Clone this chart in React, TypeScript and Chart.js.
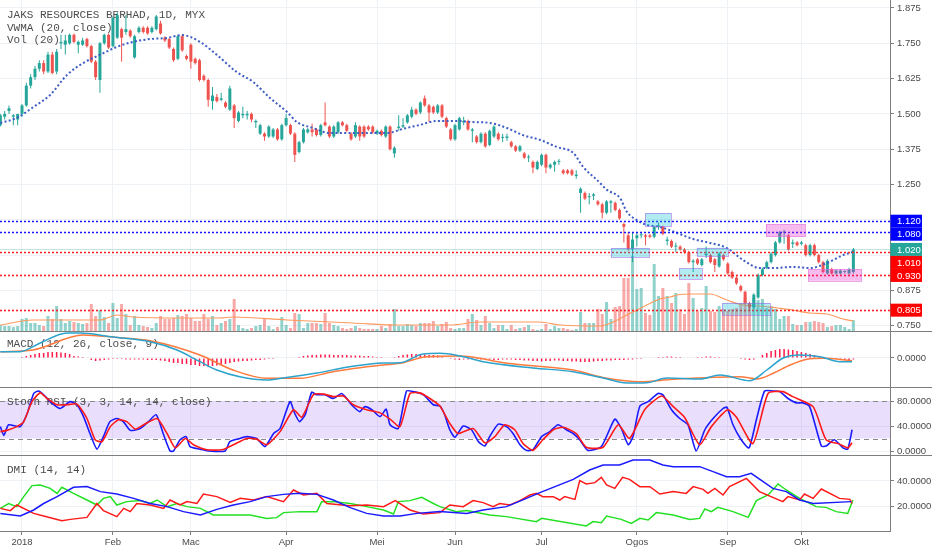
import React, { useEffect, useRef } from 'react';
import { Chart, registerables } from 'chart.js';

Chart.register(...registerables);
Chart.defaults.font.family = "'Liberation Sans', Arial, sans-serif";

// ---------- layout constants ----------
const AXIS_W = 42;
const X_MIN = -0.08;
const X_MAX = 205.46;
const GRID = '#eef1f6';
const AXIS = '#7f7f7f';
const TXT = '#4a4a4a';
const TICK_FONT = { family: "'Liberation Sans', Arial, sans-serif", size: 9.5 };
const MONO = "11px 'Liberation Mono', 'DejaVu Sans Mono', monospace";

// ---------- data ----------
const MONTH_TICKS = [5, 26, 44, 66, 87, 105, 125, 147, 168, 185];
const MONTH_LABELS = ['2018', 'Feb', 'Mac', 'Apr', 'Mei', 'Jun', 'Jul', 'Ogos', 'Sep', 'Okt'];

const OPEN = [
  1.46, 1.49, 1.51, 1.49, 1.48, 1.50, 1.53, 1.60, 1.63, 1.66,
  1.68, 1.65, 1.71, 1.65, 1.75, 1.745, 1.75, 1.78, 1.745, 1.745,
  1.765, 1.74, 1.685, 1.62, 1.75, 1.78, 1.74, 1.77, 1.80, 1.79,
  1.795, 1.70, 1.79, 1.805, 1.805, 1.79, 1.80, 1.82, 1.77, 1.765,
  1.73, 1.695, 1.775, 1.705, 1.745, 1.695, 1.69, 1.635, 1.62, 1.545,
  1.56, 1.55, 1.54, 1.515, 1.53, 1.475, 1.495, 1.495, 1.50, 1.47,
  1.43, 1.43, 1.42, 1.42, 1.445, 1.41, 1.46, 1.46, 1.43, 1.365,
  1.40, 1.435, 1.445, 1.445, 1.425, 1.47, 1.455, 1.42, 1.435, 1.47,
  1.46, 1.43, 1.42, 1.455, 1.455, 1.455, 1.455, 1.43, 1.44, 1.42,
  1.455, 1.36, 1.45, 1.455, 1.47, 1.49, 1.515, 1.505, 1.555, 1.53,
  1.525, 1.505, 1.53, 1.485, 1.445, 1.41, 1.445, 1.47, 1.475, 1.44,
  1.42, 1.40, 1.43, 1.39, 1.42, 1.43, 1.415, 1.415, 1.40, 1.385,
  1.37, 1.36, 1.345, 1.33, 1.305, 1.32, 1.355, 1.31, 1.32, 1.33,
  1.30, 1.30, 1.30, 1.28, 1.22, 1.22, 1.205, 1.21, 1.19, 1.18,
  1.15, 1.185, 1.185, 1.16, 1.11, 1.07, 1.02, 1.06, 1.07, 1.07,
  1.07, 1.065, 1.10, 1.10, 1.05, 1.05, 1.03, 1.03, 1.02, 1.01,
  0.975, 0.985, 0.965, 1.00, 1.00, 0.985, 0.96, 1.00, 0.97, 0.94,
  0.92, 0.89, 0.87, 0.83, 0.815, 0.85, 0.93, 0.955, 0.975, 1.00,
  1.045, 1.08, 1.07, 1.04, 1.045, 1.04, 1.035, 1.00, 1.035, 1.00,
  0.975, 0.935, 0.95, 0.935, 0.935, 0.94, 0.935, 0.94,
];
const HIGH = [
  1.50, 1.51, 1.53, 1.50, 1.50, 1.535, 1.61, 1.64, 1.67, 1.69,
  1.69, 1.72, 1.72, 1.73, 1.78, 1.78, 1.785, 1.785, 1.76, 1.77,
  1.77, 1.745, 1.69, 1.755, 1.785, 1.785, 1.845, 1.86, 1.805, 1.85,
  1.80, 1.78, 1.81, 1.81, 1.81, 1.81, 1.85, 1.83, 1.775, 1.77,
  1.735, 1.78, 1.78, 1.71, 1.75, 1.70, 1.695, 1.64, 1.625, 1.595,
  1.57, 1.575, 1.545, 1.60, 1.535, 1.51, 1.525, 1.51, 1.505, 1.48,
  1.465, 1.435, 1.46, 1.45, 1.45, 1.465, 1.50, 1.465, 1.435, 1.405,
  1.45, 1.45, 1.465, 1.45, 1.465, 1.54, 1.46, 1.46, 1.475, 1.475,
  1.465, 1.435, 1.47, 1.46, 1.46, 1.46, 1.46, 1.445, 1.445, 1.46,
  1.46, 1.385, 1.495, 1.485, 1.50, 1.525, 1.52, 1.545, 1.565, 1.535,
  1.53, 1.535, 1.535, 1.49, 1.45, 1.465, 1.49, 1.49, 1.48, 1.45,
  1.425, 1.435, 1.435, 1.445, 1.46, 1.435, 1.43, 1.43, 1.405, 1.39,
  1.39, 1.365, 1.355, 1.335, 1.335, 1.36, 1.36, 1.325, 1.335, 1.34,
  1.305, 1.305, 1.305, 1.30, 1.24, 1.225, 1.22, 1.22, 1.195, 1.185,
  1.195, 1.195, 1.19, 1.165, 1.115, 1.08, 1.08, 1.08, 1.08, 1.075,
  1.075, 1.105, 1.115, 1.105, 1.065, 1.055, 1.045, 1.035, 1.025, 1.015,
  0.985, 0.99, 0.99, 1.03, 1.005, 0.99, 1.01, 1.005, 0.975, 0.945,
  0.925, 0.895, 0.875, 0.835, 0.865, 0.935, 0.955, 0.98, 1.01, 1.05,
  1.085, 1.09, 1.075, 1.055, 1.05, 1.05, 1.04, 1.04, 1.04, 1.005,
  0.98, 0.985, 0.955, 0.95, 0.95, 0.945, 0.955, 1.025,
];
const LOW = [
  1.455, 1.48, 1.50, 1.46, 1.46, 1.49, 1.525, 1.59, 1.62, 1.65,
  1.64, 1.645, 1.64, 1.64, 1.73, 1.71, 1.745, 1.75, 1.715, 1.74,
  1.735, 1.68, 1.62, 1.575, 1.745, 1.73, 1.735, 1.765, 1.685, 1.78,
  1.77, 1.695, 1.785, 1.785, 1.78, 1.785, 1.795, 1.78, 1.755, 1.73,
  1.685, 1.69, 1.72, 1.69, 1.66, 1.675, 1.615, 1.615, 1.525, 1.515,
  1.54, 1.545, 1.52, 1.51, 1.45, 1.47, 1.485, 1.48, 1.47, 1.45,
  1.425, 1.405, 1.415, 1.415, 1.405, 1.405, 1.455, 1.425, 1.33, 1.36,
  1.395, 1.43, 1.42, 1.42, 1.42, 1.455, 1.415, 1.415, 1.43, 1.455,
  1.435, 1.405, 1.415, 1.405, 1.415, 1.44, 1.43, 1.425, 1.42, 1.415,
  1.37, 1.345, 1.44, 1.45, 1.465, 1.485, 1.495, 1.50, 1.525, 1.47,
  1.50, 1.50, 1.485, 1.45, 1.405, 1.405, 1.44, 1.46, 1.44, 1.40,
  1.395, 1.395, 1.38, 1.385, 1.415, 1.405, 1.40, 1.405, 1.38, 1.365,
  1.365, 1.34, 1.33, 1.29, 1.30, 1.315, 1.29, 1.305, 1.295, 1.32,
  1.285, 1.285, 1.28, 1.27, 1.15, 1.195, 1.18, 1.195, 1.175, 1.13,
  1.145, 1.15, 1.155, 1.125, 1.045, 1.015, 0.975, 1.03, 1.06, 1.035,
  1.06, 1.06, 1.09, 1.07, 1.035, 1.025, 1.01, 1.015, 1.005, 0.97,
  0.94, 0.965, 0.96, 0.99, 0.97, 0.94, 0.955, 0.98, 0.93, 0.915,
  0.895, 0.87, 0.825, 0.805, 0.81, 0.845, 0.925, 0.95, 0.97, 0.995,
  1.04, 1.04, 1.015, 1.025, 1.03, 1.035, 0.995, 0.995, 0.995, 0.97,
  0.935, 0.93, 0.93, 0.93, 0.93, 0.935, 0.93, 0.935,
];
const CLOSE = [
  1.495, 1.50, 1.52, 1.495, 1.50, 1.53, 1.60, 1.63, 1.66, 1.68,
  1.65, 1.71, 1.645, 1.72, 1.755, 1.76, 1.78, 1.755, 1.755, 1.76,
  1.74, 1.685, 1.63, 1.75, 1.78, 1.735, 1.84, 1.85, 1.77, 1.80,
  1.775, 1.775, 1.805, 1.79, 1.785, 1.805, 1.845, 1.785, 1.76, 1.735,
  1.69, 1.775, 1.725, 1.695, 1.685, 1.68, 1.62, 1.62, 1.55, 1.565,
  1.545, 1.555, 1.525, 1.59, 1.485, 1.505, 1.50, 1.50, 1.48, 1.475,
  1.46, 1.42, 1.455, 1.445, 1.41, 1.46, 1.485, 1.43, 1.355, 1.40,
  1.445, 1.445, 1.435, 1.425, 1.46, 1.46, 1.42, 1.455, 1.47, 1.46,
  1.44, 1.41, 1.46, 1.42, 1.42, 1.445, 1.435, 1.44, 1.425, 1.455,
  1.375, 1.38, 1.455, 1.46, 1.495, 1.515, 1.50, 1.54, 1.53, 1.505,
  1.505, 1.53, 1.49, 1.455, 1.41, 1.46, 1.485, 1.475, 1.445, 1.445,
  1.40, 1.43, 1.385, 1.44, 1.455, 1.41, 1.415, 1.42, 1.385, 1.37,
  1.385, 1.345, 1.345, 1.31, 1.33, 1.355, 1.31, 1.32, 1.33, 1.33,
  1.29, 1.29, 1.285, 1.285, 1.235, 1.20, 1.205, 1.215, 1.18, 1.15,
  1.19, 1.19, 1.16, 1.13, 1.10, 1.02, 1.055, 1.07, 1.07, 1.065,
  1.065, 1.10, 1.105, 1.075, 1.055, 1.03, 1.03, 1.02, 1.01, 0.975,
  0.98, 0.97, 0.985, 1.005, 0.975, 0.965, 1.005, 0.985, 0.935, 0.92,
  0.90, 0.875, 0.83, 0.815, 0.86, 0.93, 0.95, 0.975, 1.005, 1.045,
  1.08, 1.08, 1.02, 1.045, 1.035, 1.045, 1.00, 1.035, 1.00, 0.975,
  0.94, 0.98, 0.935, 0.945, 0.945, 0.94, 0.95, 1.02,
];
// volume, in units of 100k shares
const VOLUME = [
  6, 5, 5, 4, 5, 12, 13, 8, 8, 6,
  5, 15, 12, 25, 12, 8, 10, 9, 8, 7,
  8, 27, 15, 21, 14, 8, 28, 13, 27, 17,
  6, 15, 6, 5, 4, 3, 8, 15, 12, 12,
  13, 16, 15, 17, 13, 10, 10, 17, 12, 15,
  6, 8, 10, 12, 32, 6, 3, 2, 3, 5,
  6, 12, 5, 2, 4, 14, 6, 3, 18, 17,
  3, 8, 8, 8, 7, 18, 8, 6, 5, 3,
  2, 3, 5, 3, 2, 2, 2, 2, 5, 3,
  7, 22, 5, 5, 7, 6, 5, 8, 8, 8,
  10, 5, 7, 9, 3, 2, 3, 3, 12, 17,
  11, 6, 15, 8, 3, 6, 6, 2, 6, 2,
  3, 4, 6, 2, 1, 2, 7, 2, 5, 3,
  3, 2, 1, 2, 19, 8, 8, 8, 22, 17,
  29, 12, 24, 25, 53, 53, 75, 42, 43, 18,
  16, 67, 35, 43, 35, 28, 38, 22, 17, 48,
  33, 20, 23, 45, 20, 19, 25, 22, 20, 22,
  23, 28, 34, 26, 33, 31, 32, 23, 25, 22,
  12, 15, 15, 7, 6, 6, 9, 9, 10, 9,
  8, 4, 5, 6, 6, 4, 2, 11,
];
// [bar index, value] samples
const VOL_MA = [
  [0, 6], [7.5, 11], [23, 11], [27, 16], [30.6, 14], [41.5, 13], [50.7, 13], [53.7, 14],
  [66.2, 11], [81.4, 8], [92.3, 6], [103.8, 6], [110.8, 9], [124.6, 9], [129.3, 6], [138.5, 5],
  [141.5, 9], [144.7, 16], [146.1, 19], [149.3, 26], [152.3, 32], [154.7, 34], [156.3, 36],
  [160, 37], [163.9, 37], [167.8, 31], [171.5, 26], [175.4, 25], [179.4, 23], [183, 21],
  [187, 18], [190.9, 17], [194.6, 12], [196.9, 10],
];
const VWMA = [
  [0, 1.468], [3.8, 1.486], [7.6, 1.524], [11.5, 1.567], [15.4, 1.638], [19.1, 1.680],
  [23, 1.709], [26.9, 1.737], [30.6, 1.755], [34.6, 1.765], [38.5, 1.769], [42, 1.779],
  [46.1, 1.755], [50, 1.709], [54.6, 1.648], [58.4, 1.613], [62.3, 1.556], [66.2, 1.507],
  [68.5, 1.471], [72.2, 1.450], [76.1, 1.432], [81.4, 1.432], [89.3, 1.432], [93, 1.447],
  [96.9, 1.461], [100.8, 1.475], [105.5, 1.475], [109.2, 1.471], [113.1, 1.468], [117, 1.450],
  [120.7, 1.425], [124.6, 1.408], [128.5, 1.383], [132.3, 1.362], [134.6, 1.312], [137.8, 1.266],
  [140.1, 1.231], [143.1, 1.202], [144.7, 1.153], [147, 1.124], [149.3, 1.107], [152.3, 1.100],
  [156.3, 1.078], [160, 1.057], [163.9, 1.043], [167.8, 1.025], [171.5, 0.983], [175.4, 0.954],
  [178.4, 0.954], [183, 0.958], [187, 0.954], [190.9, 0.972], [194.6, 1.000], [196.9, 1.011],
];
const MACD_LINE = [
  [0, 0.0126], [4.5, 0.0126], [9.2, 0.030], [15.4, 0.050], [18.4, 0.050], [26, 0.042],
  [34.6, 0.0326], [40.8, 0.016], [46.1, -0.0074], [50, -0.024], [55.3, -0.0374], [61.6, -0.044],
  [65.3, -0.040], [73.1, -0.030], [80.7, -0.0174], [88.4, -0.010], [92.3, -0.0094], [97.6, 0.008],
  [101.5, 0.0094], [106.2, 0.004], [111.5, -0.0074], [123, -0.020], [132.3, -0.0274], [139.2, -0.040],
  [144.7, -0.050], [149.3, -0.0494], [154, -0.040], [161.6, -0.042], [166.2, -0.034], [173.1, -0.0454],
  [177, -0.024], [180.8, 0], [184.7, 0.006], [189.3, 0.0026], [193.9, -0.0074], [196.7, -0.0074],
];
const SIGNAL_LINE = [
  [0, 0.0126], [7.5, 0.016], [19.1, 0.046], [26.9, 0.041], [34.6, 0.0346], [46.1, 0.006],
  [53.7, -0.024], [61.6, -0.0406], [69.2, -0.0406], [76.8, -0.0274], [88.4, -0.014], [92.3, -0.0106],
  [98.5, 0.0026], [106.2, 0.004], [117, -0.0106], [132.3, -0.024], [140.1, -0.0406], [147.7, -0.0474],
  [155.3, -0.0426], [170.8, -0.0374], [174.7, -0.042], [178.5, -0.0306], [182.4, -0.014],
  [186.3, -0.0026], [190, -0.0006], [196.7, -0.0054],
];
const MACD_HIST = [
  0.001, 0.001, 0.001, 0.001, 0.001, 0.002, 0.004, 0.006, 0.008, 0.010,
  0.010, 0.012, 0.012, 0.012, 0.011, 0.010, 0.008, 0.004, 0.003, 0.002,
  0.001, -0.004, -0.006, -0.005, -0.004, -0.003, -0.002, -0.002, -0.002, -0.003,
  -0.003, -0.003, -0.003, -0.003, -0.004, -0.004, -0.004, -0.005, -0.006, -0.008,
  -0.010, -0.010, -0.012, -0.012, -0.014, -0.014, -0.016, -0.016, -0.017, -0.016,
  -0.015, -0.014, -0.012, -0.010, -0.008, -0.007, -0.006, -0.006, -0.005, -0.004,
  -0.004, -0.003, -0.002, -0.002, -0.001, -0.001, 0.001, 0.001, 0.001, 0.002,
  0.004, 0.005, 0.006, 0.006, 0.007, 0.007, 0.007, 0.006, 0.006, 0.006,
  0.006, 0.005, 0.005, 0.005, 0.004, 0.004, 0.003, 0.002, 0.002, 0.001,
  0.001, 0.002, 0.004, 0.006, 0.007, 0.008, 0.008, 0.008, 0.007, 0.006,
  0.006, 0.005, 0.003, 0.001, -0.002, -0.003, -0.004, -0.003, -0.003, -0.002,
  -0.002, -0.003, -0.003, -0.003, -0.004, -0.004, -0.003, -0.003, -0.003, -0.004,
  -0.004, -0.005, -0.005, -0.006, -0.006, -0.007, -0.006, -0.006, -0.005, -0.005,
  -0.006, -0.006, -0.007, -0.007, -0.008, -0.008, -0.008, -0.007, -0.006, -0.006,
  -0.005, -0.005, -0.004, -0.004, -0.004, -0.003, -0.003, -0.002, -0.002, -0.001,
  -0.001, 0.001, 0.002, 0.002, 0.003, 0.003, 0.002, 0.002, 0.001, 0.001,
  0.001, 0.002, 0.002, 0.003, 0.003, 0.002, 0.002, 0.001, 0.001, 0.001,
  0.000, -0.002, -0.003, -0.004, -0.003, -0.001, 0.006, 0.010, 0.014, 0.016,
  0.018, 0.018, 0.017, 0.016, 0.014, 0.012, 0.010, 0.008, 0.006, 0.004,
  0.002, 0.001, -0.001, -0.002, -0.003, -0.004, -0.004, -0.003,
];
const STOCH_K = [
  [0, 39], [0.8, 25], [1.9, 42], [4.6, 39], [6.2, 60], [7.7, 92], [8.8, 96], [10, 90], [11.5, 79],
  [13.8, 68], [16.1, 79], [17.7, 74], [19.2, 55], [20.7, 28], [22.3, 3], [23.8, 23], [25.3, 47],
  [26.9, 52], [28.4, 47], [30, 33], [32.3, 36], [34.2, 47], [36, 58], [37.6, 28], [39.2, 0], [40, 0],
  [41.5, 18], [42.9, 23], [43.8, 7], [46.1, 3], [48, 0], [51.9, 0], [53, 15], [55.3, 20], [56.9, 23],
  [59.2, 20], [61.1, 7], [63.1, 28], [64.6, 36], [66.9, 79], [68, 60], [69.1, 47], [70.4, 58],
  [71.9, 94], [73, 90], [75, 90], [76.9, 84], [78.8, 92], [80, 84], [81.1, 74], [83, 63], [84.2, 71],
  [85.8, 66], [87.7, 55], [89.1, 67], [90, 42], [91.9, 36], [93.8, 96], [95.4, 95], [97.7, 90],
  [100, 74], [101.5, 72], [102.5, 60], [103.8, 34], [105, 22], [106.9, 40], [108.8, 34], [110.4, 15],
  [111.9, 8], [113, 23], [115, 43], [116.9, 39], [118.4, 28], [120, 10], [121.5, 1], [123, 2],
  [125, 23], [126.9, 31], [128.8, 42], [130.7, 34], [132.3, 28], [133.8, 18], [135.7, 1], [138.8, 7],
  [141.9, 51], [143.4, 36], [145, 10], [146.1, 23], [147.7, 72], [149.6, 79], [151.9, 92], [153, 90],
  [155, 66], [156.9, 52], [158.8, 42], [160.7, 0], [162.7, 34], [164.6, 52], [166.9, 68], [167.8, 70],
  [169.2, 42], [171.1, 18], [172.9, 5], [174.6, 50], [176.5, 96], [178.4, 96], [180, 95], [181.9, 84],
  [183.8, 77], [185.3, 77], [186.9, 71], [189.6, 8], [190.7, 8], [192.6, 18], [194.6, 5], [195.7, 3],
  [196.7, 34],
];
const STOCH_D = [
  [0, 31], [1.5, 33], [3.8, 39], [5.4, 47], [7.3, 79], [9.2, 93], [10.8, 84], [13.1, 74], [15.4, 74],
  [17.7, 75], [20, 52], [21.9, 18], [23.5, 15], [25.4, 39], [27.3, 50], [29.2, 47], [31.2, 35],
  [33.1, 42], [36.2, 52], [38.5, 28], [40.4, 5], [42.7, 20], [44.6, 10], [47.7, 2], [51.2, 2],
  [53.8, 10], [56.9, 20], [59.2, 19], [61.5, 10], [64.6, 31], [67.7, 66], [69.6, 54], [72.3, 90],
  [74.6, 91], [76.9, 87], [79.2, 88], [81.5, 74], [84.6, 66], [87.7, 61], [90, 51], [92.3, 39],
  [94.6, 92], [96.9, 93], [99.2, 84], [101.5, 72], [103.8, 44], [105.7, 28], [109.2, 36], [111.9, 13],
  [114.2, 23], [116.5, 42], [118.8, 34], [120.7, 12], [123, 1], [125.3, 18], [127.7, 34], [130, 38],
  [133, 28], [135.3, 6], [139.2, 6], [142.7, 42], [145.3, 20], [148.8, 66], [152.7, 88], [155.4, 71],
  [158, 54], [161.5, 10], [164.2, 39], [168, 66], [170, 54], [173.8, 12], [177.3, 92], [180.7, 95],
  [183, 87], [187.7, 71], [190.7, 18], [193.8, 11], [195.7, 5], [196.7, 13],
];
const DMI_BLUE = [
  [0, 14], [4.6, 12], [7.7, 16.8], [10, 22], [13.1, 27.5], [16.9, 35], [20, 35.5], [23.1, 31.5],
  [26.9, 29.6], [30.8, 26.1], [34.6, 22], [38.5, 19.5], [42.3, 15.5], [46.2, 12.8], [50, 17.3],
  [53.8, 20.8], [57.7, 23.5], [61.5, 27.5], [65.4, 29.3], [69.2, 30.1], [73.1, 29.3], [76.9, 24.8],
  [80.8, 18.7], [84.6, 14.1], [88.5, 12], [92.3, 12], [96.2, 14.1], [101.5, 15.5], [107.7, 14.1],
  [111.5, 16.8], [116.9, 19.5], [121.5, 26.1], [124.6, 30.7], [132.3, 41.3], [136.1, 48.8],
  [139.2, 52.8], [143, 52.8], [146.1, 56.8], [150, 56.8], [153, 52.8], [155.4, 51.5], [161.5, 51.5],
  [164.6, 47.5], [167.7, 43.5], [170.7, 43.5], [173.4, 46.1], [178.4, 34.1], [181.5, 31.5],
  [184.6, 24.8], [187.7, 22], [196.5, 23.5],
];
const DMI_RED = [
  [0, 18.1], [2.3, 16.3], [3.8, 20.8], [7.7, 14.1], [10, 12], [14.2, 8.3], [16.2, 9.3], [20, 10.9],
  [22.3, 22], [23.8, 16.3], [26.9, 11.5], [28.5, 18.1], [30, 15.5], [31.5, 22], [34.6, 20.8],
  [37.7, 18.1], [39.2, 24.8], [41.5, 20.8], [43.1, 23.5], [45.4, 22], [46.9, 29.6], [50, 27.5],
  [53.1, 22.9], [55.4, 26.1], [58.5, 24.8], [61.5, 27.5], [65.4, 23.5], [67.7, 32.8], [70, 28.8],
  [73.1, 30.1], [75.4, 22], [80.8, 20.3], [84.6, 20.8], [88.5, 19.5], [91.2, 24.3], [94.6, 16.8],
  [97.7, 13.6], [101.5, 14.7], [103.8, 20.8], [106.9, 19.5], [109.2, 24.3], [111.5, 22.7],
  [113.8, 19.5], [115.3, 22], [117.7, 20.8], [120, 24.3], [122.3, 28.8], [123.8, 30.1], [125.3, 27.5],
  [127.7, 27.5], [129.2, 24.8], [130.3, 27.5], [132.7, 25.3], [133.8, 40.3], [135.3, 37.6],
  [137.3, 38.7], [138.8, 42.9], [140, 36.8], [141.9, 34.1], [143.7, 42.9], [145.3, 41.3],
  [147.7, 35.5], [150, 35.5], [152.3, 29.6], [155.4, 31.5], [158.4, 30.1], [160, 35.5], [162.3, 33.3],
  [163.4, 30.1], [165, 34.1], [166.9, 28.8], [168.4, 35.5], [172.3, 42.1], [175.3, 31.5],
  [180.7, 23.5], [181.9, 27.5], [184.6, 24.8], [185.7, 29.6], [187.7, 26.1], [189.6, 33.6],
  [193.8, 26.1], [196.2, 25.3], [196.7, 22],
];
const DMI_GREEN = [
  [0, 18.1], [1.9, 22], [3.8, 19.5], [5.4, 27.5], [7.3, 36.3], [9.2, 36.8], [11.5, 34.1], [13.1, 30.1],
  [14.2, 35], [16.9, 30.1], [20, 24.8], [22.3, 20.8], [23.8, 26.1], [25.4, 27.5], [26.9, 20.8],
  [29.2, 23.5], [32.3, 24.3], [34.6, 22], [36.2, 24.8], [38.5, 19.5], [40.8, 22], [43.1, 19.5],
  [46.2, 18.1], [49.2, 12.8], [53.8, 12.8], [57.7, 12.8], [61.5, 10.1], [63.8, 10.7], [65.4, 14.7],
  [69.2, 15.5], [73.1, 15.5], [74.2, 23.5], [76.9, 23.5], [80.8, 22], [84.6, 19.5], [88.5, 16.8],
  [90.8, 13.6], [91.9, 23.5], [94.6, 24.3], [97.3, 26.9], [100, 22], [101.5, 19.5], [105.3, 15.5],
  [107.7, 16.3], [113, 12.8], [116.9, 11.5], [123.8, 7.5], [125, 10.1], [135.3, 4], [136.9, 7.5],
  [138.8, 6.7], [140, 12], [143.4, 9.3], [145.7, 6.1], [147.7, 10.1], [149.6, 8.8], [151.5, 14.7],
  [155.4, 12.8], [159.2, 9.3], [161.5, 10.1], [162.7, 17.6], [164.2, 15.5], [165.7, 18.9],
  [169.2, 15.5], [172.7, 10.9], [174.6, 24.3], [177.3, 28.8], [179.6, 37.6], [181.5, 32.8],
  [184.6, 26.1], [188.4, 19.5], [190.7, 18.9], [193, 15.5], [195.7, 14.1], [196.9, 24.8],
];

const PRICE_TICKS = [0.75, 0.875, 1.0, 1.125, 1.25, 1.375, 1.5, 1.625, 1.75, 1.875];
const HIDDEN_PRICE_TICKS = [1.0, 1.125];
const LEVELS = [
  { v: 1.12, c: '#1414ff' }, { v: 1.08, c: '#1414ff' },
  { v: 1.01, c: '#ff2020' }, { v: 0.93, c: '#ff2020' }, { v: 0.805, c: '#ff2020' },
];
const LAST_PRICE = 1.02;
const PRICE_TAGS = [
  { v: 1.12, bg: '#0000ff' }, { v: 1.08, bg: '#0000ff' }, { v: 1.02, bg: '#26a69a' },
  { v: 1.01, bg: '#ff0000' }, { v: 0.93, bg: '#ff0000' }, { v: 0.805, bg: '#ff0000' },
];
const BOXES = [
  { i0: 141.0, i1: 149.8, p0: 1.025, p1: 0.993, kind: 'cyan' },
  { i0: 148.9, i1: 154.9, p0: 1.149, p1: 1.1025, kind: 'cyan' },
  { i0: 156.8, i1: 162.0, p0: 0.953, p1: 0.915, kind: 'cyan' },
  { i0: 160.8, i1: 168.0, p0: 1.026, p1: 0.997, kind: 'cyan' },
  { i0: 166.7, i1: 177.7, p0: 0.831, p1: 0.788, kind: 'cyan' },
  { i0: 176.8, i1: 185.9, p0: 1.109, p1: 1.065, kind: 'pink' },
  { i0: 186.6, i1: 198.9, p0: 0.950, p1: 0.909, kind: 'pink' },
];

// ---------- helpers ----------
const pts = (arr: number[][]) => arr.map(([x, y]) => ({ x, y }));

function xAxis(show: boolean): any {
  return {
    type: 'linear', min: X_MIN, max: X_MAX, offset: false,
    afterBuildTicks: (a: any) => { a.ticks = MONTH_TICKS.map((v) => ({ value: v })); },
    afterFit: (a: any) => { a.paddingLeft = 0; a.paddingRight = 0; a.height = show ? 19 : 0; },
    ticks: {
      display: show, autoSkip: false, maxRotation: 0, minRotation: 0, padding: 2, color: TXT, font: TICK_FONT,
      callback: (_v: any, i: number) => MONTH_LABELS[i],
    },
    grid: { color: GRID, offset: false, drawTicks: show, tickLength: 4, tickColor: AXIS },
    border: { display: show, color: AXIS },
  };
}

function yAxis(min: number, max: number, ticks: number[], dec: number, hidden: number[] = []): any {
  return {
    type: 'linear', position: 'right', min, max, beginAtZero: false,
    afterBuildTicks: (a: any) => { a.ticks = ticks.map((v) => ({ value: v })); },
    afterFit: (a: any) => { a.width = AXIS_W; a.paddingTop = 0; a.paddingBottom = 0; },
    ticks: {
      autoSkip: false, padding: 3, color: TXT, font: TICK_FONT,
      callback: (v: any) => (hidden.includes(v) ? '' : Number(v).toFixed(dec)),
    },
    grid: { color: GRID, tickLength: 4, tickColor: AXIS },
    border: { display: true, color: AXIS },
  };
}

function legendPlugin(id: string, lines: string[], ys: number[]): any {
  return {
    id,
    beforeDatasetsDraw(chart: any) {
      const ctx = chart.ctx;
      ctx.save();
      ctx.font = MONO;
      ctx.fillStyle = '#4d4d4d';
      ctx.textBaseline = 'middle';
      ctx.textAlign = 'left';
      lines.forEach((t, i) => ctx.fillText(t, 7, ys[i]));
      ctx.restore();
    },
  };
}

const separatorPlugin: any = {
  id: 'separator',
  afterDraw(chart: any) {
    const ctx = chart.ctx;
    ctx.save();
    ctx.strokeStyle = AXIS;
    ctx.lineWidth = 1;
    ctx.beginPath();
    ctx.moveTo(0, 0.5);
    ctx.lineTo(chart.width, 0.5);
    ctx.stroke();
    ctx.restore();
  },
};

const stochBandPlugin: any = {
  id: 'stochBand',
  beforeDatasetsDraw(chart: any) {
    const { ctx, chartArea: ca } = chart;
    const y = chart.scales.y;
    const y80 = y.getPixelForValue(80);
    const y20 = y.getPixelForValue(20);
    ctx.save();
    ctx.fillStyle = 'rgba(150, 90, 245, 0.2)';
    ctx.fillRect(ca.left, y80, ca.right - ca.left, y20 - y80);
    ctx.strokeStyle = '#8a8a8a';
    ctx.lineWidth = 1;
    ctx.setLineDash([5, 4]);
    [y80, y20].forEach((yy) => {
      ctx.beginPath();
      ctx.moveTo(ca.left, Math.round(yy) + 0.5);
      ctx.lineTo(ca.right, Math.round(yy) + 0.5);
      ctx.stroke();
    });
    ctx.restore();
  },
};

const priceDecorPlugin: any = {
  id: 'priceDecor',
  afterDatasetsDraw(chart: any) {
    const { ctx, chartArea: ca } = chart;
    const x = chart.scales.x;
    const y = chart.scales.y;
    ctx.save();
    ctx.beginPath();
    ctx.rect(ca.left, ca.top, ca.right - ca.left, ca.bottom - ca.top);
    ctx.clip();
    // last price line
    const py = Math.round(y.getPixelForValue(LAST_PRICE)) + 0.5;
    ctx.strokeStyle = 'rgba(38,166,154,0.3)';
    ctx.lineWidth = 1;
    ctx.beginPath();
    ctx.moveTo(ca.left, py);
    ctx.lineTo(ca.right, py);
    ctx.stroke();
    // dotted horizontal levels
    ctx.lineWidth = 1.6;
    ctx.setLineDash([2, 2]);
    LEVELS.forEach((lv) => {
      const yy = Math.round(y.getPixelForValue(lv.v)) + 0.5;
      ctx.strokeStyle = lv.c;
      ctx.beginPath();
      ctx.moveTo(ca.left, yy);
      ctx.lineTo(ca.right, yy);
      ctx.stroke();
    });
    ctx.setLineDash([]);
    // rectangles
    BOXES.forEach((b) => {
      const x0 = x.getPixelForValue(b.i0);
      const x1 = x.getPixelForValue(b.i1);
      const y0 = y.getPixelForValue(b.p0);
      const y1 = y.getPixelForValue(b.p1);
      ctx.fillStyle = b.kind === 'cyan' ? 'rgba(0, 188, 212, 0.3)' : 'rgba(233, 30, 200, 0.3)';
      ctx.fillRect(x0, y0, x1 - x0, y1 - y0);
      ctx.strokeStyle = b.kind === 'cyan' ? 'rgba(156, 100, 230, 0.55)' : 'rgba(225, 110, 220, 0.6)';
      ctx.lineWidth = 1;
      ctx.strokeRect(Math.round(x0) + 0.5, Math.round(y0) + 0.5, Math.round(x1 - x0), Math.round(y1 - y0));
    });
    ctx.restore();
  },
  afterDraw(chart: any) {
    const ctx = chart.ctx;
    const y = chart.scales.y;
    const h = 13;
    const items = PRICE_TAGS.map((t) => ({ ...t, cy: y.getPixelForValue(t.v) })).sort((a, b) => a.cy - b.cy);
    let prevBottom = -Infinity;
    ctx.save();
    ctx.font = "9.5px 'Liberation Sans', Arial, sans-serif";
    ctx.textBaseline = 'middle';
    ctx.textAlign = 'left';
    items.forEach((it) => {
      let top = it.cy - h / 2;
      if (top < prevBottom) top = prevBottom;
      prevBottom = top + h;
      ctx.fillStyle = it.bg;
      ctx.fillRect(y.left + 0.5, top, 31.5, h);
      ctx.fillStyle = '#ffffff';
      ctx.fillText(it.v.toFixed(3), y.left + 7, top + h / 2 + 0.5);
    });
    ctx.restore();
  },
};

const baseOptions = (scales: any): any => ({
  responsive: false,
  animation: false,
  events: [],
  layout: { padding: 0, autoPadding: false },
  plugins: { legend: { display: false }, tooltip: { enabled: false } },
  scales,
});

export default function App() {
  const priceRef = useRef<HTMLCanvasElement>(null);
  const macdRef = useRef<HTMLCanvasElement>(null);
  const stochRef = useRef<HTMLCanvasElement>(null);
  const dmiRef = useRef<HTMLCanvasElement>(null);

  useEffect(() => {
    const idx = OPEN.map((_, i) => i);
    const up = idx.map((i) => CLOSE[i] >= OPEN[i]);
    const candleColors = up.map((u) => (u ? '#26a69a' : '#ef5350'));
    const volColors = up.map((u) => (u ? 'rgba(38,166,154,0.5)' : 'rgba(239,83,80,0.5)'));

    const price = new Chart(priceRef.current!, {
      type: 'bar',
      data: {
        datasets: [
          {
            type: 'line', data: pts(VWMA), yAxisID: 'y', borderColor: '#3d5cc4', borderWidth: 2,
            borderDash: [2, 2.33], pointRadius: 0, cubicInterpolationMode: 'monotone', order: 0,
          },
          {
            type: 'bar', data: idx.map((i) => ({ x: i, y: [Math.min(OPEN[i], CLOSE[i]), Math.max(OPEN[i], CLOSE[i])] })),
            yAxisID: 'y', backgroundColor: candleColors, barThickness: 3, minBarLength: 1, grouped: false,
            inflateAmount: 0, borderWidth: 0, order: 1,
          },
          {
            type: 'bar', data: idx.map((i) => ({ x: i, y: [LOW[i], HIGH[i]] })),
            yAxisID: 'y', backgroundColor: candleColors, barThickness: 1, grouped: false,
            inflateAmount: 0, borderWidth: 0, order: 2,
          },
          {
            type: 'line', data: pts(VOL_MA), yAxisID: 'yv', borderColor: '#ff9a5e', borderWidth: 1.2,
            pointRadius: 0, cubicInterpolationMode: 'monotone', order: 3,
          },
          {
            type: 'bar', data: idx.map((i) => ({ x: i, y: VOLUME[i] })), yAxisID: 'yv',
            backgroundColor: volColors, barThickness: 3, grouped: false, inflateAmount: 0, borderWidth: 0, order: 4,
          },
        ] as any,
      },
      options: baseOptions({
        x: xAxis(false),
        y: yAxis(0.7312, 1.9033, PRICE_TICKS, 3, HIDDEN_PRICE_TICKS),
        yv: { type: 'linear', display: false, min: 0, max: 331 },
      }),
      plugins: [
        legendPlugin('lgPrice', ['JAKS RESOURCES BERHAD, 1D, MYX', 'VWMA (20, close)', 'Vol (20)'], [15, 27.7, 40.3]),
        priceDecorPlugin,
      ],
    } as any);

    const macd = new Chart(macdRef.current!, {
      type: 'bar',
      data: {
        datasets: [
          {
            type: 'line', data: pts(SIGNAL_LINE), borderColor: '#ff7a3d', borderWidth: 1.5, pointRadius: 0,
            cubicInterpolationMode: 'monotone', order: 1,
          },
          {
            type: 'line', data: pts(MACD_LINE), borderColor: '#2ba3cc', borderWidth: 1.5, pointRadius: 0,
            cubicInterpolationMode: 'monotone', order: 0,
          },
          {
            type: 'bar', data: idx.map((i) => ({ x: i, y: MACD_HIST[i] })), backgroundColor: '#ff1a4a',
            barThickness: 1.5, grouped: false, inflateAmount: 0, borderWidth: 0, order: 2,
          },
        ] as any,
      },
      options: baseOptions({ x: xAxis(false), y: yAxis(-0.058, 0.054, [0], 4) }),
      plugins: [legendPlugin('lgMacd', ['MACD (12, 26, close, 9)'], [13.5]), separatorPlugin],
    } as any);

    const stoch = new Chart(stochRef.current!, {
      type: 'line',
      data: {
        datasets: [
          { data: pts(STOCH_K), borderColor: '#1a1aff', borderWidth: 1.6, pointRadius: 0, tension: 0.2, order: 1 },
          { data: pts(STOCH_D), borderColor: '#ff1a1a', borderWidth: 1.6, pointRadius: 0, tension: 0.2, order: 0 },
        ] as any,
      },
      options: baseOptions({ x: xAxis(false), y: yAxis(-6.4, 102.4, [0, 40, 80], 4) }),
      plugins: [stochBandPlugin, legendPlugin('lgStoch', ['Stoch RSI (3, 3, 14, 14, close)'], [14.7]), separatorPlugin],
    } as any);

    const dmi = new Chart(dmiRef.current!, {
      type: 'line',
      data: {
        datasets: [
          { data: pts(DMI_GREEN), borderColor: '#22e022', borderWidth: 1.5, pointRadius: 0, tension: 0, order: 2 },
          { data: pts(DMI_RED), borderColor: '#ff1a1a', borderWidth: 1.5, pointRadius: 0, tension: 0, order: 1 },
          { data: pts(DMI_BLUE), borderColor: '#1a1aff', borderWidth: 1.5, pointRadius: 0, tension: 0, order: 0 },
        ] as any,
      },
      options: baseOptions({ x: xAxis(true), y: yAxis(0, 60.8, [20, 40], 4) }),
      plugins: [legendPlugin('lgDmi', ['DMI (14, 14)'], [15]), separatorPlugin],
    } as any);

    return () => {
      price.destroy();
      macd.destroy();
      stoch.destroy();
      dmi.destroy();
    };
  }, []);

  const cs = (top: number): React.CSSProperties => ({ position: 'absolute', left: 0, top, display: 'block' });
  return (
    <div style={{ position: 'absolute', left: 0, top: 0, width: 932, height: 550, background: '#ffffff', overflow: 'hidden' }}>
      <canvas ref={priceRef} width={932} height={331} style={cs(0)} />
      <canvas ref={macdRef} width={932} height={56} style={cs(331)} />
      <canvas ref={stochRef} width={932} height={68} style={cs(387)} />
      <canvas ref={dmiRef} width={932} height={95} style={cs(455)} />
    </div>
  );
}
